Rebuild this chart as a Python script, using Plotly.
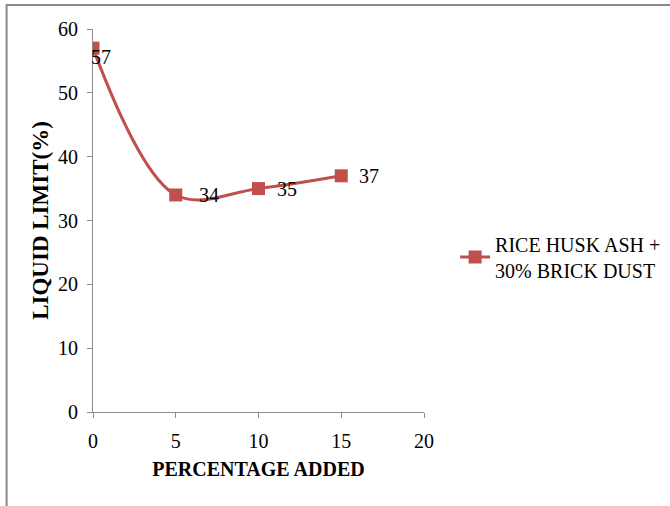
import plotly.graph_objects as go

x_vals = [0, 5, 10, 15]
y_vals = [57, 34, 35, 37]
series_name = "RICE HUSK ASH +<br>30% BRICK DUST"
label_shift_x = [-4, 21, 16, 16]
label_shift_y = [-9, 0, 0, 0]

color = "#C0504D"
font = "Liberation Serif, Times New Roman, serif"

fig = go.Figure()
fig.add_trace(go.Scatter(
    x=x_vals, y=y_vals, mode="lines+markers", name=series_name,
    line=dict(color=color, width=3, shape="spline", smoothing=1),
    marker=dict(symbol="square", size=13, color=color),
))

for xv, yv, sx, sy in zip(x_vals, y_vals, label_shift_x, label_shift_y):
    fig.add_annotation(x=xv, y=yv, text=str(yv), showarrow=False, xanchor="left",
                       xshift=sx, yshift=sy, font=dict(family=font, size=20, color="black"))

axis_common = dict(showgrid=False, zeroline=False, showline=True, linecolor="#8c8c8c",
                   linewidth=1, ticks="outside", ticklen=5, tickcolor="#8c8c8c",
                   tickfont=dict(family=font, size=20, color="black"))

fig.update_layout(
    width=670, height=506,
    margin=dict(l=93, r=246, t=29, b=94, autoexpand=False),
    paper_bgcolor="white", plot_bgcolor="white",
    xaxis=dict(range=[0, 20], tickvals=[0, 5, 10, 15, 20], ticklabelstandoff=6,
               title=dict(text="<b>PERCENTAGE ADDED</b>", font=dict(family=font, size=20, color="black"), standoff=10),
               **axis_common),
    yaxis=dict(range=[0, 60], tickvals=[0, 10, 20, 30, 40, 50, 60], ticklabelstandoff=5,
               title=dict(text="<b>LIQUID LIMIT(%)</b>", font=dict(family=font, size=23, color="black"), standoff=2),
               **axis_common),
    legend=dict(x=1.094, y=0.405, xanchor="left", yanchor="middle",
                font=dict(family=font, size=20, color="black"), bgcolor="rgba(0,0,0,0)"),
    showlegend=True,
)

fig.add_shape(type="rect", xref="paper", yref="paper", x0=-0.261, x1=1.78, y0=-0.29, y1=1.0627,
              line=dict(color="#8a8a8a", width=2), layer="below")

fig.write_html("out.html", config={"displayModeBar": False},
               post_script="document.body.style.margin='0';")
